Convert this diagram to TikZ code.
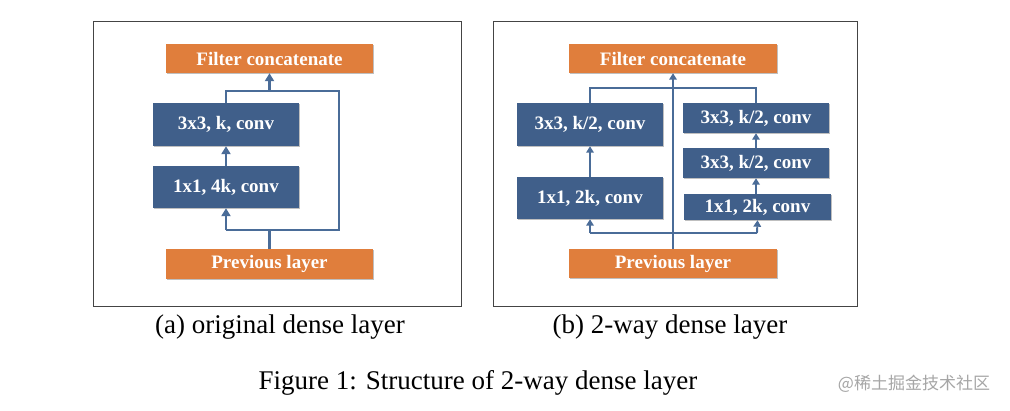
\documentclass[tikz,border=0pt]{standalone}
\usepackage{fontspec}
\setmainfont{Liberation Serif}
\newfontfamily\cjk{Noto Sans CJK SC}
\usetikzlibrary{arrows.meta,shadows}
\definecolor{boxorange}{HTML}{E07E3C}
\definecolor{boxblue}{HTML}{405F8A}
\definecolor{lineblue}{HTML}{4A6C98}
\definecolor{framegray}{HTML}{444444}
\tikzset{
  x=1pt,y=-1pt,
  blk/.style={draw=none,inner sep=0pt,text=white,font=\fontsize{19}{19}\selectfont\bfseries,
    drop shadow={shadow xshift=1.2pt,shadow yshift=-1.2pt,opacity=0.25,fill=black}},
  obox/.style={blk,fill=boxorange},
  bbox/.style={blk,fill=boxblue},
  conn/.style={draw=lineblue,line width=2.8pt},
  arr/.style={-{Triangle[width=9pt,length=8pt]}},
  connb/.style={draw=lineblue,line width=1.9pt},
  arrb/.style={-{Triangle[width=7.5pt,length=6.5pt]}},
  frame/.style={draw=framegray,line width=0.9pt},
  captxt/.style={font=\fontsize{27}{27}\selectfont,inner sep=0pt}
}
\begin{document}
\begin{tikzpicture}
\useasboundingbox (0,0) rectangle (1010,410);
\fill[white] (0,0) rectangle (1010,410);
% frames
\draw[frame] (93,21) rectangle (461,306);
\draw[frame] (493,21) rectangle (857,306);
% ---------- panel (a)
\node[obox,minimum width=207pt,minimum height=29pt] (filterA) at (269.5,58.5) {Filter concatenate};
\node[bbox,minimum width=146pt,minimum height=43pt] (c3A) at (226,124.5) {3x3, k, conv};
\node[bbox,minimum width=146pt,minimum height=42pt] (c1A) at (226,187) {1x1, 4k, conv};
\node[obox,minimum width=207pt,minimum height=30pt] (prevA) at (269.5,264) {Previous layer};
\coordinate (jA) at (269.5,230);
\coordinate (lA) at (226,230);
\coordinate (rA) at (339,230);
\coordinate (tlA) at (226,91);
\coordinate (trA) at (339,91);
\coordinate (tcA) at (269.5,91);
\draw[conn] (prevA.north) -- (jA);
\draw[conn,line join=miter] (lA) -- (rA) -- (trA) -- (tlA) -- (c3A.north);
\draw[conn,arr] (lA) -- (c1A.south);
\draw[conn,arr] (c1A.north) -- (c3A.south);
\draw[conn,arr] (tcA) -- (filterA.south);
% ---------- panel (b)
\node[obox,minimum width=208pt,minimum height=29pt] (filterB) at (673,58.5) {Filter concatenate};
\node[bbox,minimum width=146pt,minimum height=43pt] (l3) at (590,124.5) {3x3, k/2, conv};
\node[bbox,minimum width=146pt,minimum height=42pt] (l1) at (590,198) {1x1, 2k, conv};
\node[bbox,minimum width=146pt,minimum height=30pt] (r3a) at (756,118) {3x3, k/2, conv};
\node[bbox,minimum width=146pt,minimum height=30pt] (r3b) at (756,163) {3x3, k/2, conv};
\node[bbox,minimum width=147pt,minimum height=26pt] (r1) at (757.5,207) {1x1, 2k, conv};
\node[obox,minimum width=208pt,minimum height=29pt] (prevB) at (673,263.5) {Previous layer};
\coordinate (lB) at (590,233);
\coordinate (rB) at (757,233);
\coordinate (tlB) at (590,88);
\coordinate (trB) at (756,88);
\draw[connb] (lB) -- (rB);
\draw[connb,arrb] (lB) -- (l1.south);
\draw[connb,arrb] (rB) -- (r1.south);
\draw[connb,arrb] (l1.north) -- (l3.south);
\draw[connb,arrb] (r1.north -| r3b.south) -- (r3b.south);
\draw[connb,arrb] (r3b.north) -- (r3a.south);
\draw[connb] (l3.north) -- (tlB) -- (trB) -- (r3a.north);
\draw[connb,arrb,line width=2.2pt] (prevB.north) -- (filterB.south);
% captions
\node[captxt] (capA) at (280,327) {(a) original dense layer};
\node[captxt] (capB) at (670,327) {(b) 2-way dense layer};
\node[captxt] (fig) at (478,383) {Figure 1: Structure of 2-way dense layer};
\node[inner sep=0pt,text=black!35,font=\cjk\fontsize{17}{17}\selectfont] (wm) at (914,384) {@稀土掘金技术社区};
\end{tikzpicture}
\end{document}
